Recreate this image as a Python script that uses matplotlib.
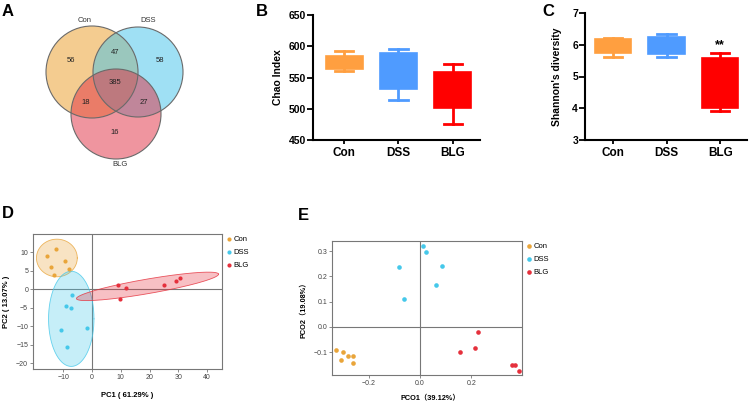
import numpy as np
import matplotlib
matplotlib.use('Agg')
import matplotlib.pyplot as plt
from matplotlib.patches import Circle

plt.rcParams['font.family'] = ['Liberation Sans', 'DejaVu Sans', 'Noto Sans CJK SC']

W, H = 753, 403
groups = ['Con', 'DSS', 'BLG']

# A: shared / unique OTUs
venn_counts = {'Con': 56, 'DSS': 58, 'BLG': 16,
               'Con&DSS': 47, 'Con&BLG': 18, 'DSS&BLG': 27, 'all': 385}

# B: Chao index box stats
chao_lo = [561, 514, 476]
chao_q1 = [563, 531, 502]
chao_med = [572, 560, 530]
chao_q3 = [584, 589, 559]
chao_hi = [593, 595, 571]

# C: Shannon diversity box stats
shan_lo = [5.62, 5.62, 3.92]
shan_q1 = [5.73, 5.70, 4.02]
shan_med = [5.95, 5.95, 4.8]
shan_q3 = [6.18, 6.23, 5.57]
shan_hi = [6.20, 6.33, 5.73]

# D: PCA scores
pca_x = {'Con': [-15.5, -12.4, -9.5, -14.3, -8.0, -13.2],
         'DSS': [-6.8, -8.9, -7.4, -10.8, -1.6, -8.7],
         'BLG': [8.9, 11.7, 9.8, 24.9, 29.1, 30.7]}
pca_y = {'Con': [9.1, 11.0, 7.8, 6.0, 5.6, 3.9],
         'DSS': [-1.5, -4.5, -5.0, -11.0, -10.6, -15.5],
         'BLG': [1.1, 0.4, -2.5, 1.1, 2.3, 3.0]}
# ellipses: centre, first and second half-axis vectors (data units)
ell_c = {'Con': (-12.2, 8.5), 'DSS': (-7.2, -8.0), 'BLG': (19.3, 0.8)}
ell_a = {'Con': (7.1, 0.0), 'DSS': (7.9, 0.0), 'BLG': (24.7, 3.3)}
ell_b = {'Con': (0.0, 5.1), 'DSS': (0.0, 12.9), 'BLG': (0.0, 2.0)}

# E: PCoA scores
pco_x = {'Con': [-0.329, -0.299, -0.307, -0.281, -0.263, -0.263],
         'DSS': [0.010, 0.025, -0.083, 0.086, 0.061, -0.061],
         'BLG': [0.228, 0.214, 0.157, 0.359, 0.370, 0.385]}
pco_y = {'Con': [-0.092, -0.101, -0.130, -0.113, -0.113, -0.143],
         'DSS': [0.322, 0.296, 0.237, 0.241, 0.166, 0.109],
         'BLG': [-0.021, -0.083, -0.100, -0.151, -0.151, -0.175]}

venn_col = {'Con': '#EB9B23', 'DSS': '#41C3EB', 'BLG': '#E12D41'}
box_col = ['#FF9F40', '#4F9BFF', '#FF0000']
pt_col = {'Con': '#E9A53A', 'DSS': '#45C8EA', 'BLG': '#E5303C'}


def px_axes(fig, l, t, r, b):
    return fig.add_axes([l / W, 1 - b / H, (r - l) / W, (b - t) / H])


fig = plt.figure(figsize=(W / 100, H / 100), dpi=100)

# ---------------- A: Venn
axA = px_axes(fig, 0, 0, 240, 200)
axA.set_xlim(0, 240)
axA.set_ylim(200, 0)
axA.axis('off')
circ = {'Con': (92, 72, 46), 'DSS': (138, 72, 45), 'BLG': (116, 114, 45)}
for g in groups:
    x, y, r = circ[g]
    axA.add_patch(Circle((x, y), r, facecolor=venn_col[g], alpha=0.5, lw=0))
for g in groups:
    x, y, r = circ[g]
    axA.add_patch(Circle((x, y), r, facecolor='none', edgecolor='#6a6a6a', lw=0.8))
lab_pos = {'Con': (71, 61), 'DSS': (160, 61), 'BLG': (115, 132),
           'Con&DSS': (115, 53), 'Con&BLG': (86, 103), 'DSS&BLG': (144, 103), 'all': (115, 83)}
for k, v in venn_counts.items():
    axA.text(*lab_pos[k], str(v), ha='center', va='center', fontsize=5.5, color='#222')
axA.text(85, 20, 'Con', ha='center', va='center', fontsize=5.5, color='#333')
axA.text(148, 20, 'DSS', ha='center', va='center', fontsize=5.5, color='#333')
axA.text(120, 164, 'BLG', ha='center', va='center', fontsize=5.5, color='#333')


def box_panel(ax, lo, q1, med, q3, hi, ylim, yticks, ylabel):
    stats = [dict(whislo=lo[i], q1=q1[i], med=med[i], q3=q3[i], whishi=hi[i], label=groups[i])
             for i in range(3)]
    bp = ax.bxp(stats, positions=[0, 1, 2], widths=0.68, patch_artist=True,
                showfliers=False, capwidths=0.34)
    for i in range(3):
        c = box_col[i]
        bp['boxes'][i].set(facecolor=c, edgecolor=c, linewidth=1.2)
        bp['medians'][i].set(color=c, linewidth=1.2)
        for ln in bp['whiskers'][2 * i:2 * i + 2] + bp['caps'][2 * i:2 * i + 2]:
            ln.set(color=c, linewidth=2)
    ax.set_ylim(*ylim)
    ax.set_yticks(yticks)
    ax.set_xlim(-0.57, 2.5)
    for s in ['top', 'right']:
        ax.spines[s].set_visible(False)
    for s in ['left', 'bottom']:
        ax.spines[s].set_linewidth(1.5)
    ax.tick_params(axis='y', length=4, width=1.3, labelsize=7.5, pad=1)
    ax.tick_params(axis='x', length=3, width=1.3, labelsize=8.5, pad=2)
    for t in ax.get_xticklabels() + ax.get_yticklabels():
        t.set_fontweight('bold')
    ax.set_ylabel(ylabel, fontsize=7.5, fontweight='bold')


# ---------------- B
axB = px_axes(fig, 313, 15, 480, 140)
box_panel(axB, chao_lo, chao_q1, chao_med, chao_q3, chao_hi, (450, 650),
          [450, 500, 550, 600, 650], 'Chao Index')
axB.yaxis.set_label_coords(-0.18, 0.5)

# ---------------- C
axC = px_axes(fig, 585, 13, 747, 140)
box_panel(axC, shan_lo, shan_q1, shan_med, shan_q3, shan_hi, (3, 7),
          [3, 4, 5, 6, 7], "Shannon's diversity")
axC.set_xlim(-0.52, 2.5)
axC.yaxis.set_label_coords(-0.14, 0.5)
axC.text(2, shan_hi[2] + 0.08, '**', ha='center', va='bottom', fontsize=9, fontweight='bold')


def ord_panel(ax):
    for s in ax.spines.values():
        s.set_color('#777')
        s.set_linewidth(0.8)
    ax.axhline(0, color='#777', lw=0.8, zorder=1)
    ax.axvline(0, color='#777', lw=0.8, zorder=1)
    ax.tick_params(length=2, width=0.6, color='#777', labelsize=5, labelcolor='#444', pad=1.5)
    ax.legend(loc='upper left', bbox_to_anchor=(1.01, 1.01), frameon=False, fontsize=5.5,
              handlelength=0.6, handletextpad=0.3, labelspacing=0.75, borderaxespad=0,
              markerscale=1.0)


# ---------------- D
axD = px_axes(fig, 33, 234, 222, 369)
t = np.linspace(0, 2 * np.pi, 200)
for g in groups:
    cx, cy = ell_c[g]
    ax_, ay_ = ell_a[g]
    bx_, by_ = ell_b[g]
    ex = cx + ax_ * np.cos(t) + bx_ * np.sin(t)
    ey = cy + ay_ * np.cos(t) + by_ * np.sin(t)
    axD.fill(ex, ey, facecolor=pt_col[g], alpha=0.3, edgecolor='none', zorder=2)
    axD.plot(ex, ey, color=pt_col[g], lw=0.6, alpha=0.8, zorder=2)
for g in groups:
    axD.scatter(pca_x[g], pca_y[g], s=9, color=pt_col[g], label=g, zorder=3, linewidths=0)
axD.set_xlim(-20.5, 45.2)
axD.set_ylim(-21.6, 15)
axD.set_xticks([-10, 0, 10, 20, 30, 40])
axD.set_yticks([-20, -15, -10, -5, 0, 5, 10])
ord_panel(axD)
axD.set_xlabel('PC1 ( 61.29% )', fontsize=5.5, fontweight='bold')
axD.set_ylabel('PC2 ( 13.07% )', fontsize=5.5, fontweight='bold')
axD.xaxis.set_label_coords(0.5, -0.17)
axD.yaxis.set_label_coords(-0.12, 0.5)

# ---------------- E
axE = px_axes(fig, 332, 241, 522, 375)
for g in groups:
    axE.scatter(pco_x[g], pco_y[g], s=11, color=pt_col[g], label=g, zorder=3, linewidths=0)
axE.set_xlim(-0.343, 0.398)
axE.set_ylim(-0.19, 0.34)
axE.set_xticks([-0.2, 0.0, 0.2])
axE.set_yticks([-0.1, 0.0, 0.1, 0.2, 0.3])
ord_panel(axE)
axE.set_xlabel('PCO1（39.12%）', fontsize=5.3, fontweight='bold')
axE.set_ylabel('PCO2（19.08%）', fontsize=5.3, fontweight='bold')
axE.xaxis.set_label_coords(0.516, -0.15)
axE.yaxis.set_label_coords(-0.13, 0.5)

# panel letters
for lab, (x, y) in {'A': (8, 12), 'B': (262, 12), 'C': (548, 12),
                    'D': (8, 213), 'E': (303, 215)}.items():
    fig.text(x / W, 1 - y / H, lab, fontsize=12, fontweight='bold', ha='center', va='center')

fig.savefig('out.png', dpi=100)
